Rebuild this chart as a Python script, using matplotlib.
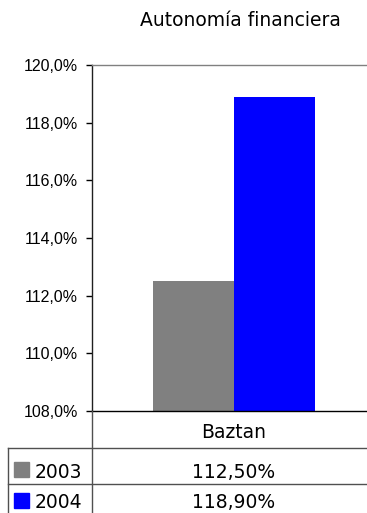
import matplotlib.pyplot as plt
from matplotlib.lines import Line2D
from matplotlib.patches import Rectangle

# datos
titulo = "Autonomía financiera"
municipio = "Baztan"
anios = ["2003", "2004"]
valores = [112.5, 118.9]
colores = ["#808080", "#0000FF"]
yticks = [108, 110, 112, 114, 116, 118, 120]

W, H = 367, 513
fig = plt.figure(figsize=(W / 100, H / 100), dpi=100)


# pixeles -> fraccion de figura
def fx(px):
    return px / W


def fy(py):
    return 1 - py / H


ax = fig.add_axes([fx(92), fy(411), fx(376) - fx(92), fy(65) - fy(411)])

ancho = 0.285
for i, (v, c) in enumerate(zip(valores, colores)):
    ax.bar((i - 0.5) * ancho, v, width=ancho, color=c, align="center")

ax.set_xlim(-0.5, 0.5)
ax.set_ylim(yticks[0], yticks[-1])
ax.set_yticks(yticks)
ax.set_yticklabels([f"{t:.1f}%".replace(".", ",") for t in yticks],
                   fontfamily="Liberation Sans", fontsize=11.5)
ax.set_xticks([])
ax.tick_params(axis="y", direction="out", length=4.3, width=1, pad=6, color="black")

ax.spines["right"].set_visible(False)
ax.spines["top"].set_color("#808080")
ax.spines["left"].set_color("#202020")
ax.spines["bottom"].set_color("black")
for s in ax.spines.values():
    s.set_linewidth(1)

fig.text(fx(240), fy(21), titulo, ha="center", va="center",
         fontfamily="DejaVu Sans", fontsize=13.5)

# tabla de datos bajo el grafico
col_lineas = "#505050"
fig.add_artist(Line2D([fx(92), fx(92)], [fy(411), 0], color=col_lineas, lw=1))
fig.add_artist(Line2D([fx(8), fx(8)], [fy(448), 0], color=col_lineas, lw=1))
for py in (448, 484):
    fig.add_artist(Line2D([fx(8), 1], [fy(py), fy(py)], color=col_lineas, lw=1))

fig.text(fx(234), fy(438), municipio, ha="center", va="baseline",
         fontfamily="DejaVu Sans", fontsize=13.5)

for i, (anio, v, c) in enumerate(zip(anios, valores, colores)):
    base = 477.5 + 31 * i
    fig.add_artist(Rectangle((fx(14), fy(base - 0.5)), fx(15), fy(0) - fy(15),
                             color=c, transform=fig.transFigure))
    fig.text(fx(35), fy(base), anio, ha="left", va="baseline",
             fontfamily="DejaVu Sans", fontsize=13.5)
    fig.text(fx(234), fy(base), f"{v:.2f}%".replace(".", ","), ha="center",
             va="baseline", fontfamily="DejaVu Sans", fontsize=13.5)

fig.savefig("out.png", dpi=100)
